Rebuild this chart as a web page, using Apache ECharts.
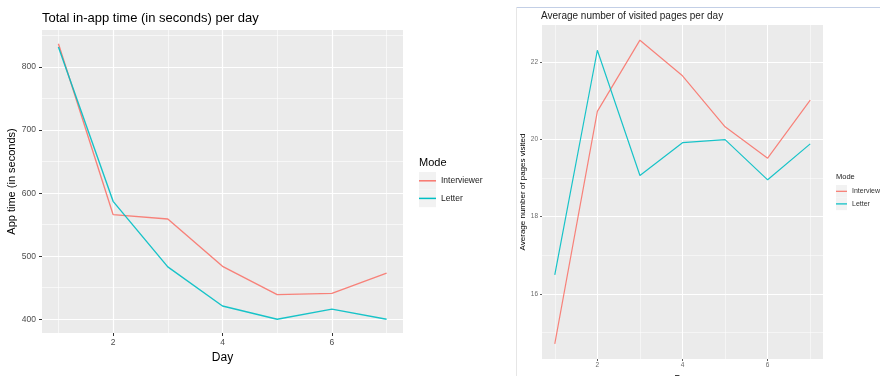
<!DOCTYPE html>
<html>
<head>
<meta charset="utf-8">
<script src="https://cdn.jsdelivr.net/npm/echarts@6/dist/echarts.min.js"></script>
<style>
  html, body { margin: 0; padding: 0; background: #fff; }
  #chart { width: 880px; height: 376px; }
</style>
</head>
<body>
<div id="chart"></div>
<script>
// Day index shared by both panels
const days = [1, 2, 3, 4, 5, 6, 7];
const modes = ['Interviewer', 'Letter'];

// Total in-app time (seconds) per day
const appTimeInterviewer = [837, 566, 559, 484, 439, 441, 473];
const appTimeLetter = [832, 587, 483, 421, 400, 416, 400];

// Average number of visited pages per day
const pagesInterviewer = [14.71, 20.72, 22.56, 21.64, 20.32, 19.51, 21.01];
const pagesLetter = [16.49, 22.30, 19.06, 19.91, 19.99, 18.95, 19.88];

// Tick positions (major with labels, minor for the thin grid)
const dayTicks = [2, 4, 6];
const dayMinor = [1, 3, 5, 7];
const appTimeTicks = [400, 500, 600, 700, 800];
const appTimeMinor = [450, 550, 650, 750, 850];
const pagesTicks = [16, 18, 20, 22];
const pagesMinor = [15, 17, 19, 21];

const colors = { Interviewer: '#F8766D', Letter: '#00BFC4' };
const FONT = '"Liberation Sans", Arial, sans-serif';

// ggplot-style continuous range: data extent widened by 5% on each side
function expanded(arrays) {
  const all = [].concat(...arrays);
  const lo = Math.min(...all), hi = Math.max(...all);
  const pad = (hi - lo) * 0.05;
  return [lo - pad, hi + pad];
}
const dayRange = expanded([days]);
const appRange = expanded([appTimeInterviewer, appTimeLetter]);
const pagesRange = expanded([pagesInterviewer, pagesLetter]);

const pairs = (vals) => days.map((d, i) => [d, vals[i]]);

function majorAxis(gridIndex, range, ticks, o) {
  return {
    type: 'value', gridIndex, min: range[0], max: range[1],
    axisLine: { show: false },
    axisTick: { show: true, customValues: ticks, length: o.tickLen,
                lineStyle: { color: '#333', width: o.tickW } },
    axisLabel: { customValues: ticks, color: o.labelColor, fontSize: o.labelSize,
                 fontFamily: FONT, margin: o.margin },
    splitLine: { show: true, lineStyle: { color: '#ffffff', width: o.gridW } },
    name: o.name, nameLocation: 'middle', nameGap: o.nameGap,
    nameTextStyle: { color: '#000', fontSize: o.nameSize, fontFamily: FONT }
  };
}
function minorAxis(gridIndex, range, ticks, w) {
  return {
    type: 'value', gridIndex, min: range[0], max: range[1],
    axisLine: { show: false },
    axisTick: { show: false, customValues: ticks },
    axisLabel: { show: false, customValues: ticks },
    splitLine: { show: true, lineStyle: { color: '#ffffff', width: w } }
  };
}

const leftStyle = { tickLen: 3, tickW: 1, labelColor: '#4D4D4D', labelSize: 8.5, gridW: 1.2 };
const rightStyle = { tickLen: 2, tickW: 0.8, labelColor: '#6b6b6b', labelSize: 6.5, gridW: 1 };

// light grey legend key backgrounds
function keyBoxes(x, y0, w, h, n) {
  const out = [];
  for (let i = 0; i < n; i++) {
    out.push({ type: 'rect', z: 0, silent: true,
      shape: { x: x, y: y0 + i * h, width: w, height: h },
      style: { fill: '#F2F2F2' } });
  }
  return out;
}

const option = {
  animation: false,
  backgroundColor: '#ffffff',
  textStyle: { fontFamily: FONT },
  title: [
    { text: 'Total in-app time (in seconds) per day', left: 42, top: 12, padding: 0,
      textStyle: { fontSize: 13, fontWeight: 'normal', color: '#000', fontFamily: FONT } },
    { text: 'Average number of visited pages per day', left: 541, top: 11, padding: 0,
      textStyle: { fontSize: 10, fontWeight: 'normal', color: '#222', fontFamily: FONT } },
    { text: 'Mode', left: 419, top: 157, padding: 0,
      textStyle: { fontSize: 11, fontWeight: 'normal', color: '#000', fontFamily: FONT } },
    { text: 'Mode', left: 836, top: 173, padding: 0,
      textStyle: { fontSize: 7.5, fontWeight: 'normal', color: '#222', fontFamily: FONT } }
  ],
  legend: [
    { data: modes, orient: 'vertical', left: 419, top: 172, padding: 0, itemGap: 0,
      icon: 'rect', itemWidth: 17, itemHeight: 1.5, z: 5,
      textStyle: { fontSize: 8.5, lineHeight: 17.6, color: '#1a1a1a', fontFamily: FONT } },
    { data: modes, orient: 'vertical', left: 836, top: 185, padding: 0, itemGap: 0,
      icon: 'rect', itemWidth: 11, itemHeight: 1.2, z: 5,
      textStyle: { fontSize: 7, lineHeight: 12.6, color: '#333', fontFamily: FONT } }
  ],
  grid: [
    { left: 42, top: 30, width: 361, height: 303, show: true, outerBoundsMode: 'none',
      backgroundColor: '#EBEBEB', borderWidth: 0 },
    { left: 542, top: 25, width: 281, height: 334, show: true, outerBoundsMode: 'none',
      backgroundColor: '#EBEBEB', borderWidth: 0 }
  ],
  xAxis: [
    majorAxis(0, dayRange, dayTicks, Object.assign({}, leftStyle,
      { margin: 5, name: 'Day', nameGap: 10, nameSize: 12 })),
    minorAxis(0, dayRange, dayMinor, 0.6),
    majorAxis(1, dayRange, dayTicks, Object.assign({}, rightStyle,
      { margin: 3, name: 'Day', nameGap: 7.5, nameSize: 9 })),
    minorAxis(1, dayRange, dayMinor, 0.5)
  ],
  yAxis: [
    majorAxis(0, appRange, appTimeTicks, Object.assign({}, leftStyle,
      { margin: 6, name: 'App time (in seconds)', nameGap: 18, nameSize: 11 })),
    minorAxis(0, appRange, appTimeMinor, 0.6),
    majorAxis(1, pagesRange, pagesTicks, Object.assign({}, rightStyle,
      { margin: 4, name: 'Average number of pages visited', nameGap: 9, nameSize: 8 })),
    minorAxis(1, pagesRange, pagesMinor, 0.5)
  ],
  series: [
    { name: 'Interviewer', xAxisIndex: 0, yAxisIndex: 0, data: pairs(appTimeInterviewer) },
    { name: 'Letter', xAxisIndex: 0, yAxisIndex: 0, data: pairs(appTimeLetter) },
    { name: 'Interviewer', xAxisIndex: 2, yAxisIndex: 2, data: pairs(pagesInterviewer), lineWidth: 1.2 },
    { name: 'Letter', xAxisIndex: 2, yAxisIndex: 2, data: pairs(pagesLetter), lineWidth: 1.2 }
  ].map(s => ({
    name: s.name, type: 'line', xAxisIndex: s.xAxisIndex, yAxisIndex: s.yAxisIndex,
    data: s.data, showSymbol: false, symbol: 'none', silent: true,
    color: colors[s.name],
    lineStyle: { color: colors[s.name], width: s.lineWidth || 1.4, opacity: 0.9 }
  })),
  // frame of the inset second panel and legend key backgrounds
  graphic: [
    { type: 'line', shape: { x1: 516, y1: 7.5, x2: 880, y2: 7.5 },
      style: { stroke: '#c3cfe6', lineWidth: 1 }, silent: true },
    { type: 'line', shape: { x1: 516.5, y1: 7, x2: 516.5, y2: 376 },
      style: { stroke: '#e6e6e6', lineWidth: 1 }, silent: true }
  ].concat(keyBoxes(419, 172, 17, 17.6, 2), keyBoxes(836, 185, 11, 12.6, 2))
};

const chart = echarts.init(document.getElementById('chart'), null, { renderer: 'canvas' });
chart.setOption(option);
</script>
</body>
</html>
